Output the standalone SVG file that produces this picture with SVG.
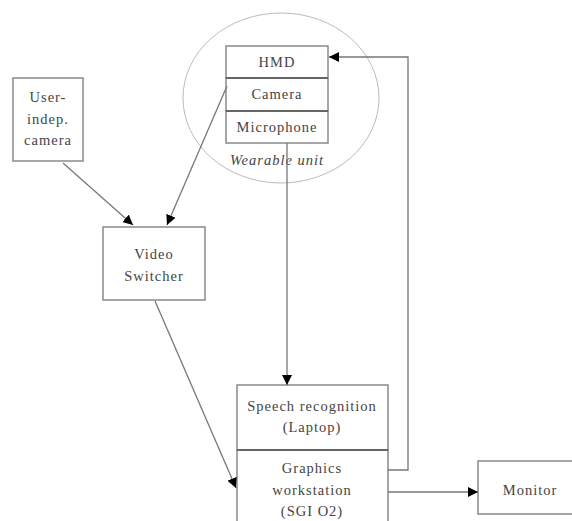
<svg xmlns="http://www.w3.org/2000/svg" width="572" height="521" viewBox="0 0 572 521">
<defs>
<style>
.box{fill:#fff;stroke:#8a8a8a;stroke-width:1.5}
.div{stroke:#666;stroke-width:1.8}
.t{font-size:14.5px;letter-spacing:1px;fill:#444;text-anchor:middle}
.it{font-style:italic}
.c{fill:none;stroke:#777;stroke-width:1.3}
</style>
<marker id="ah" viewBox="0 0 10 10" refX="10" refY="5" markerWidth="10" markerHeight="10" markerUnits="userSpaceOnUse" orient="auto">
<path d="M0,0 L10,5 L0,10 z" fill="#000"/>
</marker>
</defs>
<rect width="572" height="521" fill="#fff"/>
<g font-family="'Liberation Serif', 'Times New Roman', 'DejaVu Serif', serif">
<g id="wearable">
<ellipse cx="281" cy="98" rx="98" ry="85" fill="none" stroke="#bbb" stroke-width="1"/>
<text class="t it" x="277" y="165">Wearable unit</text>
</g>
<g id="hmd">
<rect class="box" x="226" y="46" width="102" height="32"/>
<text class="t" x="277" y="67">HMD</text>
</g>
<g id="camera">
<rect class="box" x="226" y="78" width="102" height="33"/>
<text class="t" x="277" y="99">Camera</text>
</g>
<g id="microphone">
<rect class="box" x="226" y="111" width="102" height="32"/>
<text class="t" x="277" y="132">Microphone</text>
</g>
<line class="div" x1="226" y1="78" x2="328" y2="78"/>
<line class="div" x1="226" y1="111" x2="328" y2="111"/>
<g id="userindep">
<rect class="box" x="13" y="78" width="70" height="83"/>
<text class="t" x="48" y="102">User-</text>
<text class="t" x="48" y="124">indep.</text>
<text class="t" x="48" y="145">camera</text>
</g>
<g id="videoswitcher">
<rect class="box" x="103" y="227" width="102" height="73"/>
<text class="t" x="154" y="259">Video</text>
<text class="t" x="154" y="281">Switcher</text>
</g>
<g id="speech">
<rect class="box" x="237" y="385" width="151" height="65"/>
<text class="t" x="312" y="411">Speech recognition</text>
<text class="t" x="312" y="432">(Laptop)</text>
</g>
<g id="graphics">
<rect class="box" x="237" y="450" width="151" height="80"/>
<text class="t" x="312" y="473">Graphics</text>
<text class="t" x="312" y="495">workstation</text>
<text class="t" x="312" y="516">(SGI O2)</text>
</g>
<line class="div" x1="237" y1="450" x2="388" y2="450"/>
<g id="monitor">
<rect class="box" x="478" y="461" width="100" height="53"/>
<text class="t" x="530" y="495">Monitor</text>
</g>
</g>
<g id="connectors">
<path class="c" d="M227,86 L167,225" marker-end="url(#ah)"/>
<path class="c" d="M63,163 L133,225" marker-end="url(#ah)"/>
<path class="c" d="M155,301 L236,488" marker-end="url(#ah)"/>
<path class="c" d="M287,143 L287,385" marker-end="url(#ah)"/>
<path class="c" d="M388,470 L408,470 L408,57 L329,57" marker-end="url(#ah)"/>
<path class="c" d="M388,492 L478,492" marker-end="url(#ah)"/>
</g>
</svg>
